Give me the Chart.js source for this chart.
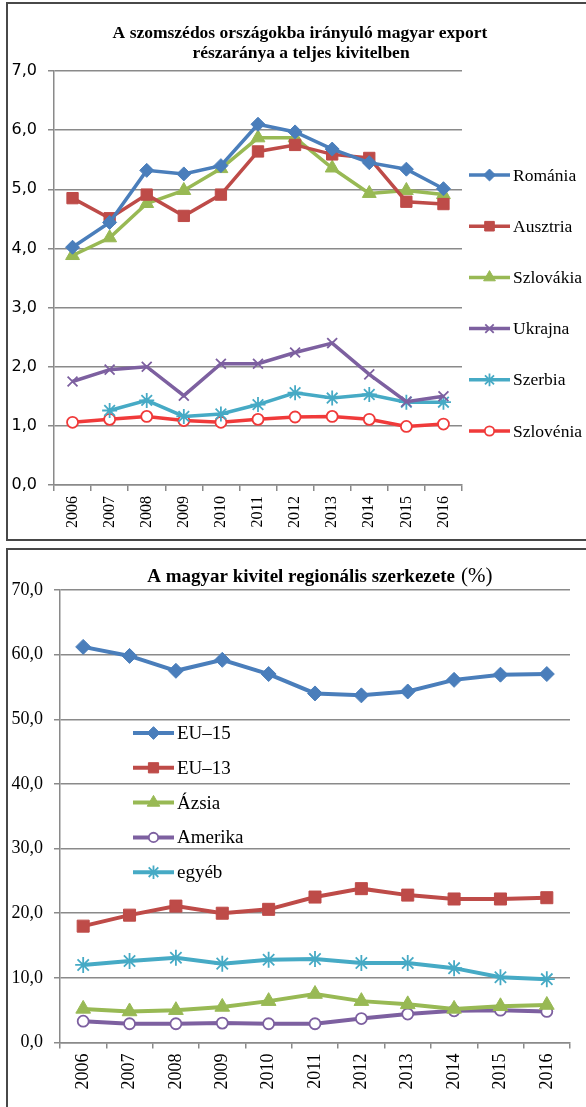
<!DOCTYPE html>
<html lang="hu">
<head>
<meta charset="UTF-8">
<title>Magyar export</title>
<script src="https://cdn.jsdelivr.net/npm/chart.js"></script>
<style>
  html, body { margin: 0; padding: 0; background: #fff; }
  body { width: 586px; height: 1107px; position: relative; overflow: hidden; }
  .frame { position: absolute; border: 2px solid #484848; box-sizing: border-box; }
  .wrap { position: absolute; left: 0; }
</style>
</head>
<body>
<div class="frame" style="left:6px; top:2px; width:620px; height:539px;"></div>
<div class="frame" style="left:6px; top:548px; width:620px; height:600px;"></div>
<div class="wrap" style="top:0; width:586px; height:540px;"><canvas id="top" width="586" height="540"></canvas></div>
<div class="wrap" style="top:548px; width:586px; height:559px;"><canvas id="bottom" width="586" height="559"></canvas></div>
<script>
// years on both x axes
const years = ['2006', '2007', '2008', '2009', '2010', '2011', '2012', '2013', '2014', '2015', '2016'];

// top chart: neighbouring countries, % of total export
const romania   = [4.02, 4.44, 5.32, 5.26, 5.40, 6.10, 5.97, 5.68, 5.45, 5.34, 5.01];
const ausztria  = [4.85, 4.51, 4.91, 4.55, 4.91, 5.64, 5.75, 5.59, 5.53, 4.79, 4.75];
const szlovakia = [3.88, 4.18, 4.76, 4.98, 5.35, 5.87, 5.87, 5.36, 4.93, 4.98, 4.91];
const ukrajna   = [1.75, 1.95, 2.00, 1.51, 2.05, 2.05, 2.24, 2.40, 1.87, 1.41, 1.50];
const szerbia   = [null, 1.26, 1.43, 1.16, 1.20, 1.36, 1.56, 1.47, 1.53, 1.40, 1.40];
const szlovenia = [1.06, 1.11, 1.16, 1.09, 1.06, 1.11, 1.15, 1.16, 1.11, 0.99, 1.03];

// bottom chart: regional structure, %
const eu15    = [61.2, 59.8, 57.5, 59.2, 57.0, 54.0, 53.7, 54.3, 56.1, 56.9, 57.0];
const eu13    = [18.0, 19.7, 21.1, 20.0, 20.6, 22.5, 23.8, 22.8, 22.2, 22.2, 22.4];
const azsia   = [5.2, 4.8, 5.0, 5.5, 6.4, 7.5, 6.4, 5.9, 5.2, 5.6, 5.8];
const amerika = [3.3, 2.9, 2.9, 3.0, 2.9, 2.9, 3.7, 4.4, 4.9, 5.0, 4.8];
const egyeb   = [12.0, 12.6, 13.1, 12.2, 12.8, 12.9, 12.3, 12.3, 11.5, 10.1, 9.8];

const topTicks = [0, 1, 2, 3, 4, 5, 6, 7];
const bottomTicks = [0, 10, 20, 30, 40, 50, 60, 70];

const BLUE = '#4a7ebb', RED = '#be4b48', GREEN = '#98b954', PURPLE = '#7d60a0', TEAL = '#46aac5', BRIGHT = '#f03a3a';
const GRID = '#8a8a8a';

function fmt(v) { return v.toFixed(1).replace('.', ','); }

function ds(label, data, color, style, radius, fill, lw) {
  return {
    label: label, data: data, borderColor: color, backgroundColor: fill || color,
    pointBorderColor: color, pointBackgroundColor: fill || color,
    pointStyle: style, pointRadius: radius, pointHoverRadius: radius,
    pointBorderWidth: style === 'crossRot' || style === 'star' || style === 'circle' ? 1.8 : 1,
    borderWidth: lw, tension: 0, fill: false
  };
}

// draws title lines and a hand placed legend
const decor = {
  id: 'decor',
  afterDraw(chart, args, opts) {
    const ctx = chart.ctx;
    ctx.save();
    ctx.textBaseline = 'middle';
    opts.title.forEach(t => {
      ctx.font = t.font;
      ctx.fillStyle = '#000';
      ctx.textAlign = t.align || 'center';
      ctx.fillText(t.text, t.x, t.y);
    });
    const lg = opts.legend;
    chart.data.datasets.forEach((d, i) => {
      const y = lg.y + i * lg.step;
      ctx.strokeStyle = d.borderColor;
      ctx.lineWidth = d.borderWidth;
      ctx.beginPath();
      ctx.moveTo(lg.x, y);
      ctx.lineTo(lg.x + lg.len, y);
      ctx.stroke();
      ctx.fillStyle = d.pointBackgroundColor;
      ctx.strokeStyle = d.pointBorderColor;
      ctx.lineWidth = d.pointBorderWidth;
      Chart.helpers.drawPoint(ctx, { pointStyle: d.pointStyle, radius: d.pointRadius * 0.85, rotation: 0, borderWidth: d.pointBorderWidth }, lg.x + lg.len / 2, y);
      ctx.font = lg.font;
      ctx.fillStyle = '#000';
      ctx.textAlign = 'left';
      ctx.fillText(d.label, lg.x + lg.len + 3, y + 1);
    });
    ctx.restore();
  }
};

function makeChart(id, datasets, ticks, cfg) {
  return new Chart(document.getElementById(id), {
    type: 'line',
    data: { labels: years, datasets: datasets },
    options: {
      responsive: false,
      animation: false,
      events: [],
      layout: { padding: { top: cfg.top, right: cfg.right, left: 0, bottom: 0 }, autoPadding: false },
      plugins: {
        legend: { display: false },
        tooltip: { enabled: false },
        decor: { title: cfg.title, legend: cfg.legend }
      },
      scales: {
        x: {
          offset: true,
          grid: { display: true, drawOnChartArea: false, drawTicks: true, tickLength: 6, color: GRID, lineWidth: 1.5, offset: true },
          border: { display: true, color: GRID, width: 1.5 },
          ticks: { minRotation: 90, maxRotation: 90, padding: 5, color: '#000', font: { family: 'Liberation Serif', size: cfg.xSize } },
          afterFit(s) { s.height = cfg.xHeight; }
        },
        y: {
          min: ticks[0], max: ticks[ticks.length - 1],
          afterBuildTicks(s) { s.ticks = ticks.map(v => ({ value: v })); },
          grid: { color: GRID, lineWidth: 1.5, tickLength: 6 },
          border: { display: true, color: GRID, width: 1.5 },
          ticks: { padding: 11, color: '#000', font: cfg.yFont, callback: v => fmt(v) },
          afterFit(s) { s.width = cfg.yWidth; }
        }
      }
    },
    plugins: [decor]
  });
}

makeChart('top', [
  ds('Románia', romania, BLUE, 'rectRot', 7, null, 3.5),
  ds('Ausztria', ausztria, RED, 'rect', 8, null, 3.5),
  ds('Szlovákia', szlovakia, GREEN, 'triangle', 8, null, 3.5),
  ds('Ukrajna', ukrajna, PURPLE, 'crossRot', 7, null, 3.5),
  ds('Szerbia', szerbia, TEAL, 'star', 7.5, null, 3.5),
  ds('Szlovénia', szlovenia, BRIGHT, 'circle', 5.5, '#fff', 3.5)
], topTicks, {
  top: 71, right: 124, yWidth: 54, xHeight: 55, xSize: 16,
  yFont: { family: 'DejaVu Sans', size: 16 },
  title: [
    { text: 'A szomszédos országokba irányuló magyar export', x: 300, y: 33, font: 'bold 17.5px "Liberation Serif"' },
    { text: 'részaránya a teljes kivitelben', x: 301, y: 53, font: 'bold 17.5px "Liberation Serif"' }
  ],
  legend: { x: 469, y: 175, step: 51.2, len: 41, font: '17.5px "Liberation Serif"' }
});

makeChart('bottom', [
  ds('EU–15', eu15, BLUE, 'rectRot', 7.5, null, 4),
  ds('EU–13', eu13, RED, 'rect', 8.5, null, 4),
  ds('Ázsia', azsia, GREEN, 'triangle', 8.5, null, 4),
  ds('Amerika', amerika, PURPLE, 'circle', 5.5, '#fff', 4),
  ds('egyéb', egyeb, TEAL, 'star', 8, null, 4)
], bottomTicks, {
  top: 42, right: 16, yWidth: 60, xHeight: 64.5, xSize: 18,
  yFont: { family: 'Liberation Serif', size: 18 },
  title: [
    { text: 'A magyar kivitel regionális szerkezete', x: 455, y: 29, font: 'bold 19px "Liberation Serif"', align: 'right' },
    { text: '(%)', x: 461, y: 28, font: '21px "Liberation Serif"', align: 'left' }
  ],
  legend: { x: 133, y: 185, step: 34.8, len: 41, font: '19px "Liberation Serif"' }
});
</script>
</body>
</html>
